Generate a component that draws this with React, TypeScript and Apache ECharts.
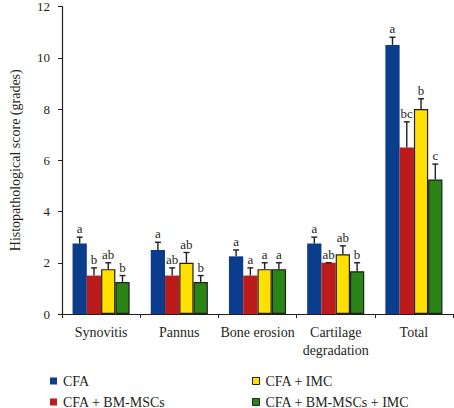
import React, { useEffect, useRef } from "react";
import * as echarts from "echarts";

const categories = ["Synovitis", "Pannus", "Bone erosion", "Cartilage\ndegradation", "Total"];
const seriesNames = ["CFA", "CFA + BM-MSCs", "CFA + IMC", "CFA + BM-MSCs + IMC"];

const cfa = [2.75, 2.5, 2.25, 2.75, 10.5];
const cfaErr = [0.25, 0.3, 0.25, 0.25, 0.3];
const cfaLetters = ["a", "a", "a", "a", "a"];

const bm = [1.5, 1.5, 1.5, 2.0, 6.5];
const bmErr = [0.3, 0.3, 0.3, 0.0, 1.0];
const bmLetters = ["b", "ab", "a", "ab", "bc"];

const imc = [1.75, 2.0, 1.75, 2.33, 8.0];
const imcErr = [0.25, 0.4, 0.25, 0.33, 0.4];
const imcLetters = ["ab", "ab", "a", "ab", "b"];

const both = [1.25, 1.25, 1.75, 1.67, 5.25];
const bothErr = [0.25, 0.25, 0.25, 0.33, 0.6];
const bothLetters = ["b", "b", "a", "b", "c"];

const yTicks = { min: 0, max: 12, interval: 2 };

const colors = ["#0a3d8b", "#bb1b1b", "#ffe000", "#2a8416"];
const borders = [null, null, "#1f1f1f", "#1f1f1f"];

const FONT = '"Liberation Serif", "DejaVu Serif", serif';
const TEXT = "#231f20";
const CAT_GAP = 0.27;

export default function App() {
  const ref = useRef<HTMLDivElement>(null);
  useEffect(() => {
    if (!ref.current) return;
    const chart = echarts.init(ref.current, undefined, { renderer: "svg" });
    const values = [cfa, bm, imc, both];
    const errs = [cfaErr, bmErr, imcErr, bothErr];
    const letters = [cfaLetters, bmLetters, imcLetters, bothLetters];

    const barSeries = values.map((vals, k) => ({
      type: "bar",
      name: seriesNames[k],
      data: vals,
      barGap: "0%",
      barCategoryGap: CAT_GAP * 100 + "%",
      itemStyle: borders[k]
        ? { color: colors[k], borderColor: borders[k], borderWidth: 1.2 }
        : { color: colors[k] },
      z: 2,
    }));

    const errSeries = values.map((vals, k) => ({
      type: "custom",
      name: "err" + k,
      data: vals.map((v, i) => [i, v, errs[k][i]]),
      encode: { x: 0, y: 1 },
      z: 3,
      renderItem: (params: any, api: any) => {
        const ci = api.value(0);
        const v = api.value(1);
        const e = api.value(2);
        const base = api.coord([ci, v]);
        const top = api.coord([ci, v + e]);
        const catW = api.size([1, 0])[0];
        const bw = (catW * (1 - CAT_GAP)) / 4;
        const x = base[0] + (k - 1.5) * bw;
        const st = { stroke: "#1f1f1f", lineWidth: 1.4 };
        return {
          type: "group",
          children: [
            { type: "line", shape: { x1: x, y1: base[1], x2: x, y2: top[1] }, style: st },
            { type: "line", shape: { x1: x - 3, y1: top[1], x2: x + 3, y2: top[1] }, style: st },
            {
              type: "text",
              x: x,
              y: top[1] - 2,
              style: {
                text: letters[k][params.dataIndex],
                align: "center",
                verticalAlign: "bottom",
                fontSize: 13,
                fontFamily: FONT,
                fill: TEXT,
              },
            },
          ],
        };
      },
    }));

    const legendCommon = {
      orient: "vertical",
      icon: "rect",
      itemWidth: 7,
      itemHeight: 7,
      itemGap: 7,
      top: 374,
      height: 60,
      padding: 0,
      textStyle: { fontSize: 14, fontFamily: FONT, color: TEXT, padding: [0, 0, 0, 1], lineHeight: 14 },
    };

    chart.setOption({
      animation: false,
      grid: { left: 50, right: 1, top: 5, bottom: 94, containLabel: false },
      legend: [
        {
          ...legendCommon,
          left: 50,
          data: [
            { name: seriesNames[0], itemStyle: { color: colors[0] } },
            { name: seriesNames[1], itemStyle: { color: colors[1] } },
          ],
        },
        {
          ...legendCommon,
          left: 252,
          data: [
            { name: seriesNames[2], itemStyle: { color: colors[2], borderColor: "#1f1f1f", borderWidth: 1 } },
            { name: seriesNames[3], itemStyle: { color: colors[3], borderColor: "#1f1f1f", borderWidth: 1 } },
          ],
        },
      ],
      xAxis: {
        type: "category",
        data: categories,
        axisLine: { lineStyle: { color: TEXT, width: 1.2 } },
        axisTick: { show: true, length: 4, lineStyle: { color: TEXT } },
        axisLabel: { fontSize: 14, fontFamily: FONT, color: TEXT, margin: 9, lineHeight: 18, interval: 0 },
      },
      yAxis: {
        type: "value",
        min: yTicks.min,
        max: yTicks.max,
        interval: yTicks.interval,
        name: "Histopathological score (grades)",
        nameLocation: "middle",
        nameGap: 40,
        nameTextStyle: { fontSize: 14, fontFamily: FONT, color: TEXT },
        axisLine: { show: true, lineStyle: { color: TEXT, width: 1.2 } },
        axisTick: { show: true, length: 4, lineStyle: { color: TEXT } },
        splitLine: { show: false },
        axisLabel: { fontSize: 13, fontFamily: FONT, color: TEXT, margin: 12 },
      },
      series: [...barSeries, ...errSeries],
    });
    return () => chart.dispose();
  }, []);
  return (
    <div
      ref={ref}
      style={{ position: "fixed", left: 0, top: 0, width: 454, height: 408, background: "#fff" }}
    />
  );
}
